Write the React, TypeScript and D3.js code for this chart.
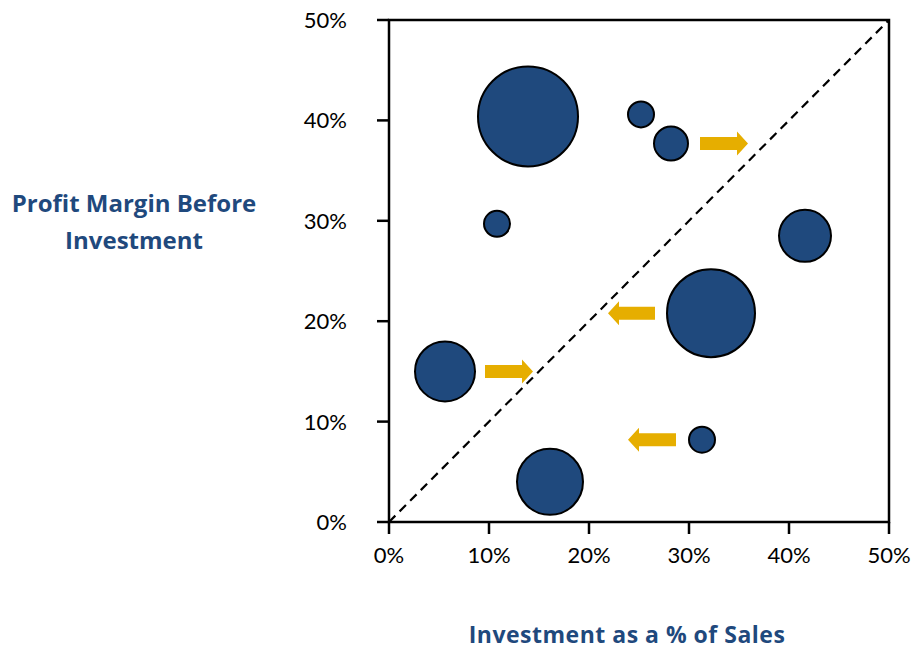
import React from "react";
import * as d3 from "d3";

const bubbleX = [13.9, 25.2, 28.2, 10.8, 41.6, 32.2, 5.6, 31.3, 16.1];
const bubbleY = [40.4, 40.6, 37.7, 29.7, 28.5, 20.8, 15.0, 8.2, 4.0];
const bubbleSize = [2500, 169, 289, 169, 676, 1936, 900, 169, 1089];

const arrowFrom = [31.1, 26.6, 9.6, 28.7];
const arrowTo = [35.9, 21.9, 14.4, 23.9];
const arrowY = [37.7, 20.8, 15.0, 8.2];

const ticks = [0, 10, 20, 30, 40, 50];

const W = 912;
const H = 650;
const left = 389, right = 889, top = 20, bottom = 522;
const blue = "#1F497D";
const gold = "#E6AE00";
const font = "Lato, 'Open Sans', sans-serif";
const titleFont = "'Open Sans', Lato, sans-serif";

export default function App() {
  const x = d3.scaleLinear().domain([0, 50]).range([left, right]);
  const y = d3.scaleLinear().domain([0, 50]).range([bottom, top]);
  const r = d3.scaleSqrt().domain([0, d3.max(bubbleSize) as number]).range([0, 50]);

  const arrowPath = (i: number) => {
    const x0 = x(arrowFrom[i]);
    const x1 = x(arrowTo[i]);
    const yc = y(arrowY[i]);
    const dir = x1 > x0 ? 1 : -1;
    const headLen = 11;
    const bodyH = 6.5;
    const headH = 12;
    const xh = x1 - dir * headLen;
    return `M${x0},${yc - bodyH}L${xh},${yc - bodyH}L${xh},${yc - headH}L${x1},${yc}L${xh},${yc + headH}L${xh},${yc + bodyH}L${x0},${yc + bodyH}Z`;
  };

  return (
    <svg width={W} height={H} style={{ position: "absolute", left: 0, top: 0, background: "#fff" }}>
      <rect x={left} y={top} width={right - left} height={bottom - top} fill="none" stroke="#000" strokeWidth={2.5} />
      {ticks.map((t) => (
        <g key={"y" + t}>
          <line x1={left - 12} x2={left} y1={y(t)} y2={y(t)} stroke="#000" strokeWidth={2.5} />
          <text x={347} y={y(t)} dy="0.36em" textAnchor="end" fontFamily={font} fontSize={22} fill="#000">{t}%</text>
        </g>
      ))}
      {ticks.map((t) => (
        <g key={"x" + t}>
          <line x1={x(t)} x2={x(t)} y1={bottom} y2={bottom + 12} stroke="#000" strokeWidth={2.5} />
          <text x={x(t)} y={563} textAnchor="middle" fontFamily={font} fontSize={22} fill="#000">{t}%</text>
        </g>
      ))}
      <line x1={x(0)} y1={y(0)} x2={x(50)} y2={y(50)} stroke="#000" strokeWidth={2.2} strokeDasharray="9,6" />
      {bubbleX.map((bx, i) => (
        <circle key={"b" + i} cx={x(bx)} cy={y(bubbleY[i])} r={r(bubbleSize[i])} fill={blue} stroke="#000" strokeWidth={2} />
      ))}
      {arrowFrom.map((_, i) => (
        <path key={"a" + i} d={arrowPath(i)} fill={gold} />
      ))}
      <text x={134} y={212} textAnchor="middle" fontFamily={titleFont} fontWeight="bold" fontSize={24} fill={blue}>Profit Margin Before</text>
      <text x={134} y={249} textAnchor="middle" fontFamily={titleFont} fontWeight="bold" fontSize={24} fill={blue}>Investment</text>
      <text x={627} y={643} textAnchor="middle" fontFamily={titleFont} fontWeight="bold" fontSize={23} letterSpacing={0.5} fill={blue}>Investment as a % of Sales</text>
    </svg>
  );
}
